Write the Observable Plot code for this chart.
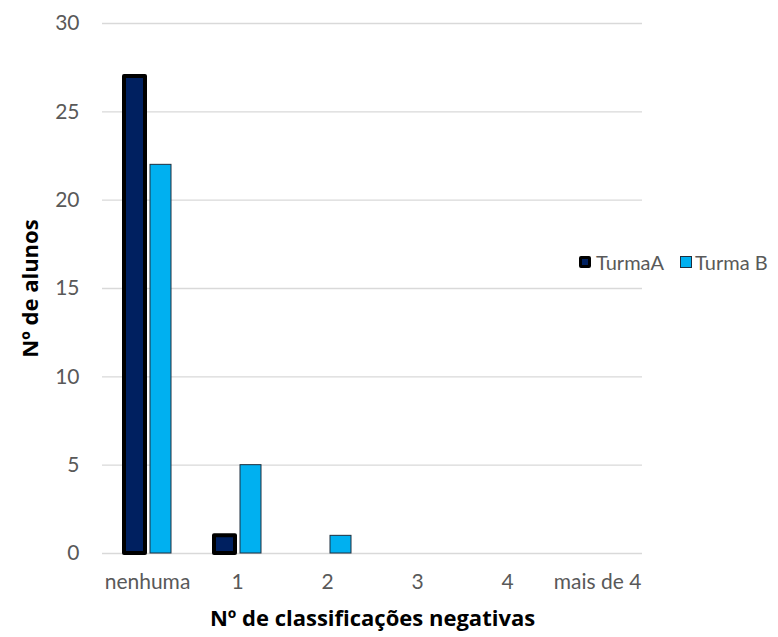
<!DOCTYPE html>
<html><head><meta charset="utf-8">
<script src="https://cdn.jsdelivr.net/npm/d3@7"></script>
<script src="https://cdn.jsdelivr.net/npm/@observablehq/plot@0.6"></script>
<style>
body{margin:0;background:#fff;}
#wrap{position:relative;width:778px;height:637px;font-family:Lato,"Open Sans",sans-serif;}
#wrap svg [aria-label="y-axis label"] text, #wrap svg [aria-label="fx-axis label"] text{font-family:"Open Sans",sans-serif;font-weight:bold;fill:#000;font-size:22px;}
.legend{position:absolute;left:579px;top:251px;display:flex;align-items:center;font-size:20px;color:#595959;line-height:22px;}
.sw{display:inline-block;box-sizing:border-box;width:12px;height:12px;margin-right:5px;}
.swA{background:#002060;border:3px solid #000;border-radius:2px;}
.swB{background:#00B0F0;border:1px solid #1f2f3f;margin-left:16px;margin-right:3px;}
</style></head>
<body><div id="wrap"></div>
<script>
const categories = ["nenhuma", "1", "2", "3", "4", "mais de 4"];
const seriesNames = ["TurmaA", "Turma B"];
const turmaA = [27, 1, 0, 0, 0, 0];
const turmaB = [22, 5, 1, 0, 0, 0];
const yTicks = [0, 5, 10, 15, 20, 25, 30];
const colors = ["#002060", "#00B0F0"];

const rows = categories.flatMap((c, i) => [
  {cat: c, series: seriesNames[0], value: turmaA[i]},
  {cat: c, series: seriesNames[1], value: turmaB[i]}
]);
const rowsA = rows.filter(d => d.series === seriesNames[0] && d.value > 0);
const rowsB = rows.filter(d => d.series === seriesNames[1] && d.value > 0);

const chart = Plot.plot({
  width: 778, height: 637,
  marginLeft: 100, marginRight: 135, marginTop: 23, marginBottom: 84,
  style: {fontFamily: "Lato, 'Open Sans', sans-serif", fontSize: "21px", color: "#595959", background: "white"},
  fx: {domain: categories, padding: 0, label: "Nº de classificações negativas", tickSize: 0, tickPadding: 21, labelAnchor: "center", labelOffset: 72, labelArrow: false},
  x: {domain: seriesNames, paddingInner: 0.2, paddingOuter: 0.82, axis: null},
  y: {domain: [0, 30], ticks: yTicks, tickSize: 0, tickPadding: 23, label: "Nº de alunos", labelAnchor: "center", labelOffset: 80, labelArrow: false},
  marks: [
    Plot.gridY(yTicks, {stroke: "#d9d9d9", strokeOpacity: 1, strokeWidth: 1.4}),
    // invisible anchor so every category facet (including empty ones) is drawn
    Plot.dot(rows, {fx: "cat", x: "series", y: 0, r: 0, fill: "none", stroke: "none"}),
    Plot.barY(rowsB, {fx: "cat", x: "series", y: "value", fill: colors[1], stroke: "#1f2f3f", strokeWidth: 1}),
    Plot.barY(rowsA, {fx: "cat", x: "series", y: "value", fill: colors[0], stroke: "#000", strokeWidth: 4, strokeLinejoin: "round"})
  ]
});
const wrap = document.getElementById("wrap");
wrap.appendChild(chart);
const lg = document.createElement("div");
lg.className = "legend";
lg.innerHTML = `<span class="sw swA"></span><span>${seriesNames[0]}</span><span class="sw swB"></span><span>${seriesNames[1]}</span>`;
wrap.appendChild(lg);
</script>
</body></html>
